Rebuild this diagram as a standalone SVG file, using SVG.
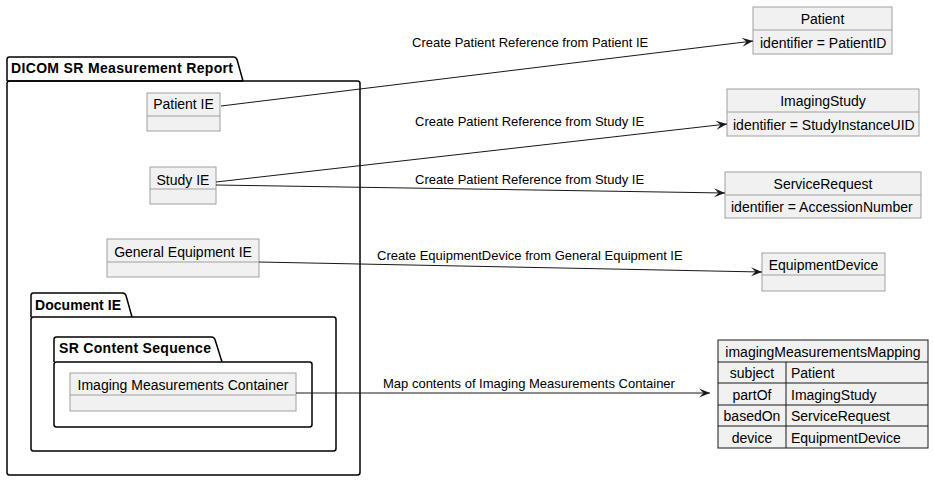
<svg xmlns="http://www.w3.org/2000/svg" width="934" height="481" viewBox="0 0 934 481">
<defs>
<style>
.pkg{fill:#FFFFFF;stroke:#000000;stroke-width:1.5}
.box{fill:#F1F1F1;stroke:#A0A0A0;stroke-width:1}
.div{stroke:#A0A0A0;stroke-width:1}
.t{font-family:"Liberation Sans",Arial,sans-serif;font-size:14px;fill:#000000}
.b{font-family:"Liberation Sans",Arial,sans-serif;font-size:14px;font-weight:bold;fill:#000000}
.l{font-family:"Liberation Sans",Arial,sans-serif;font-size:13px;fill:#000000}
.c{text-anchor:middle}
.ln{stroke:#181818;stroke-width:1;fill:none}
</style>
<marker id="arr" markerUnits="userSpaceOnUse" markerWidth="14" markerHeight="12" viewBox="0 0 14 12" refX="12" refY="6" orient="auto">
<path d="M1,1.5 L12,6 L1,10.5 L5.5,6 Z" fill="#181818"/>
</marker>
</defs>
<rect width="934" height="481" fill="#FFFFFF"/>

<g id="pkg-dicom">
<path class="pkg" d="M7,81 L7,59.5 Q7,57 9.5,57 L233.5,57 Q236,57 237,59.5 L243,81"/>
<rect class="pkg" x="7" y="81" width="353" height="394" rx="2.5"/>
<line x1="7" y1="81" x2="243" y2="81" stroke="#000" stroke-width="1.5"/>
<text class="b" x="11" y="73" textLength="222" lengthAdjust="spacing">DICOM SR Measurement Report</text>
</g>

<g id="pkg-document">
<path class="pkg" d="M31,317 L31,295.5 Q31,293 33.5,293 L122.5,293 Q125,293 126,295.5 L132,317"/>
<rect class="pkg" x="31" y="317" width="305" height="134" rx="2.5"/>
<text class="b" x="35" y="310" textLength="86" lengthAdjust="spacing">Document IE</text>
</g>

<g id="pkg-srcontent">
<path class="pkg" d="M54,362 L54,339.5 Q54,337 56.5,337 L211.5,337 Q214,337 215,339.5 L222,362"/>
<rect class="pkg" x="54" y="362" width="258" height="65" rx="2.5"/>
<text class="b" x="59" y="353" textLength="152" lengthAdjust="spacing">SR Content Sequence</text>
</g>

<g id="patient-ie">
<rect class="box" x="147" y="93" width="73" height="38"/>
<line class="div" x1="147" y1="116" x2="220" y2="116"/>
<text class="t c" x="183.5" y="109">Patient IE</text>
</g>

<g id="study-ie">
<rect class="box" x="150" y="167" width="66" height="37"/>
<line class="div" x1="150" y1="189" x2="216" y2="189"/>
<text class="t c" x="183" y="185">Study IE</text>
</g>

<g id="general-equipment-ie">
<rect class="box" x="107" y="239" width="152" height="38"/>
<line class="div" x1="107" y1="262" x2="259" y2="262"/>
<text class="t c" x="183" y="257">General Equipment IE</text>
</g>

<g id="imaging-measurements-container">
<rect class="box" x="70" y="373" width="226" height="38"/>
<line class="div" x1="70" y1="395" x2="296" y2="395"/>
<text class="t c" x="183" y="390">Imaging Measurements Container</text>
</g>

<g id="patient">
<rect class="box" x="753" y="7" width="139" height="47"/>
<line class="div" x1="753" y1="30" x2="892" y2="30"/>
<text class="t c" x="822.5" y="24">Patient</text>
<text class="t" x="760" y="48">identifier = PatientID</text>
</g>

<g id="imaging-study">
<rect class="box" x="727" y="89" width="192" height="47"/>
<line class="div" x1="727" y1="112" x2="919" y2="112"/>
<text class="t c" x="823" y="106">ImagingStudy</text>
<text class="t" x="733" y="130">identifier = StudyInstanceUID</text>
</g>

<g id="service-request">
<rect class="box" x="725" y="172" width="196" height="46"/>
<line class="div" x1="725" y1="195" x2="921" y2="195"/>
<text class="t c" x="823" y="189">ServiceRequest</text>
<text class="t" x="731" y="212">identifier = AccessionNumber</text>
</g>

<g id="equipment-device">
<rect class="box" x="762" y="253" width="123" height="38"/>
<line class="div" x1="762" y1="275" x2="885" y2="275"/>
<text class="t c" x="823.5" y="270">EquipmentDevice</text>
</g>

<g id="imaging-measurements-mapping">
<rect x="718" y="340" width="210" height="108" fill="#F1F1F1" stroke="#181818" stroke-width="1"/>
<g stroke="#181818" stroke-width="1">
<line x1="718" y1="362" x2="928" y2="362"/>
<line x1="718" y1="383" x2="928" y2="383"/>
<line x1="718" y1="405" x2="928" y2="405"/>
<line x1="718" y1="426" x2="928" y2="426"/>
<line x1="786" y1="362" x2="786" y2="448"/>
</g>
<text class="t c" x="823" y="357">imagingMeasurementsMapping</text>
<text class="t c" x="752" y="378">subject</text>
<text class="t c" x="752" y="400">partOf</text>
<text class="t c" x="752" y="421">basedOn</text>
<text class="t c" x="752" y="443">device</text>
<text class="t" x="791" y="378">Patient</text>
<text class="t" x="791" y="400">ImagingStudy</text>
<text class="t" x="791" y="421">ServiceRequest</text>
<text class="t" x="791" y="443">EquipmentDevice</text>
</g>

<g id="connectors">
<line class="ln" x1="221" y1="106" x2="753" y2="41" marker-end="url(#arr)"/>
<line class="ln" x1="216" y1="182" x2="727" y2="124" marker-end="url(#arr)"/>
<line class="ln" x1="216" y1="185" x2="725" y2="193" marker-end="url(#arr)"/>
<line class="ln" x1="259" y1="262" x2="762" y2="272" marker-end="url(#arr)"/>
<line class="ln" x1="296" y1="393" x2="710" y2="393" marker-end="url(#arr)"/>
<text class="l" x="412" y="47">Create Patient Reference from Patient IE</text>
<text class="l" x="415" y="126">Create Patient Reference from Study IE</text>
<text class="l" x="415" y="184">Create Patient Reference from Study IE</text>
<text class="l" x="377" y="260">Create EquipmentDevice from General Equipment IE</text>
<text class="l" x="383" y="388">Map contents of Imaging Measurements Container</text>
</g>
</svg>
